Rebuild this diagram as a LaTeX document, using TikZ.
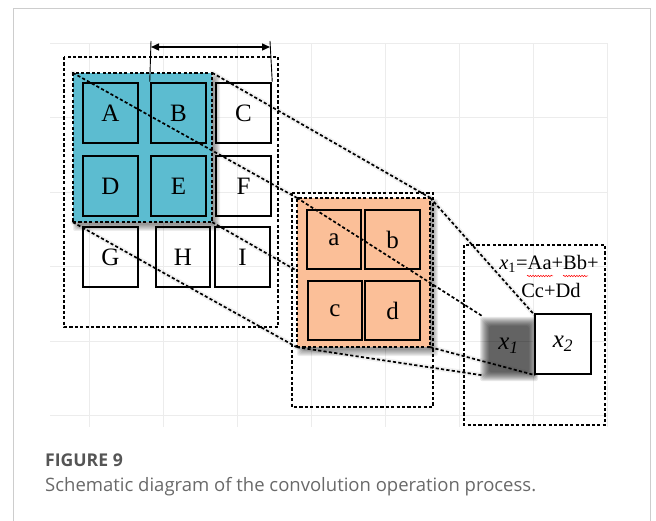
\documentclass[tikz,border=0pt]{standalone}
\usepackage{fontspec}
\setmainfont{Liberation Serif}
\newfontfamily\capfont{Open Sans}
\usetikzlibrary{arrows.meta,decorations.pathmorphing}

\definecolor{winblue}{RGB}{92,188,208}
\definecolor{kerorange}{RGB}{251,191,152}
\definecolor{gridgray}{RGB}{236,236,236}
\definecolor{framegray}{RGB}{205,205,205}
\definecolor{capdark}{RGB}{85,85,85}
\definecolor{captext}{RGB}{105,105,105}

% soft blurred box: x1 y1 x2 y2, inner offset list, opacity
\newcommand\softbox[6]{%
  \foreach \k in {#5}{%
    \fill[black, opacity=#6, rounded corners=2pt]
      (#1-\k,#2-\k) rectangle (#3+\k,#4+\k);
  }}

\tikzset{
  cellbox/.style={draw=black, line width=2.5pt, minimum width=55pt,
    minimum height=60pt, inner sep=0pt, font=\fontsize{25}{27}\selectfont},
  dotline/.style={line width=1.7pt, dash pattern=on 3.2pt off 2.2pt},
  framebox/.style={draw=black, dotline},
  regionbox/.style={draw=black, dotline, inner sep=0pt},
  lineshade/.style={line width=5pt, black, opacity=0.05, line cap=round,
    shift={(2,7)}},
}

\begin{document}
\begin{tikzpicture}[x=1pt, y=-1pt]
\useasboundingbox (0,0) rectangle (656,521);

% page frame and faint background grid
\draw[framegray, line width=0.8pt] (13,530) -- (13,8) -- (650,8) -- (650,530);
\foreach \gx in {89,163,237,311,385,459,533,607}
  \draw[gridgray, line width=0.8pt] (\gx,43) -- (\gx,427);
\foreach \gy in {43,117.5,192,266.5,341,415.5}
  \draw[gridgray, line width=0.8pt] (50,\gy) -- (607,\gy);

% node frames used by the projection lines
\node[minimum width=139pt, minimum height=149pt, inner sep=0pt]
  (win) at (142.5,147.5) {};
\node[minimum width=133pt, minimum height=149pt, inner sep=0pt]
  (ker) at (363.5,272.5) {};
\node[minimum width=53pt, minimum height=59pt, inner sep=0pt]
  (xone) at (508.5,345.5) {};

% soft shading under the projection lines
\draw[lineshade] (win.north west) -- (ker.north west);
\draw[lineshade] (win.north east) -- (ker.north east);
\draw[lineshade] (win.south west) -- (ker.south west);
\draw[lineshade] (win.south east) -- (ker.south east);
\draw[lineshade] (ker.north east) -- (xone.north east);
\draw[lineshade] (ker.south east) -- (xone.south east);
\draw[lineshade] (ker.south west) -- (xone.south west);

% dashed frames of input, kernel and output
\draw[framebox] (64,57) rectangle (278,327);
\draw[framebox] (292,193) rectangle (433,407);
\draw[framebox] (464,245) rectangle (605,425);

% sliding window on the input
\softbox{77}{78}{216}{227}{-2,...,4}{0.07}
\node[regionbox, fill=winblue, minimum width=139pt, minimum height=149pt]
  at (win) {};

\node[cellbox, fill=winblue] (A) at (110.5,113) {A};
\node[cellbox, fill=winblue] (B) at (178.5,113) {B};
\node[cellbox] (C) at (243.5,113) {C};
\node[cellbox, fill=winblue] (D) at (110.5,186) {D};
\node[cellbox, fill=winblue] (E) at (178.5,186) {E};
\node[cellbox] (F) at (243.5,186) {F};
\node[cellbox] (G) at (110.5,257) {G};
\node[cellbox, minimum width=54pt] (H) at (183,257) {H};
\node[cellbox] (I) at (242.5,257) {I};

% stride marker
\coordinate (stl) at (151,41);
\coordinate (str) at (270,41);
\coordinate (sal) at (151,47);
\coordinate (sar) at (270,47);
\draw[line width=0.9pt] (stl) -- (B.north west);
\draw[line width=0.9pt] (str) -- (C.north east);
\draw[line width=1.4pt, {Triangle[length=8pt,width=7pt]}-{Triangle[length=8pt,width=7pt]}]
  (sal) -- (sar);

% projection lines from the window to the kernel
\draw[dotline] (win.north west) -- (ker.north west);
\draw[dotline] (win.north east) -- (ker.north east);
\draw[dotline] (win.south west) -- (ker.south west);
\draw[dotline] (win.south east) -- (ker.south east);

% kernel
\softbox{301}{203}{434}{352}{-2,...,4}{0.07}
\node[regionbox, fill=kerorange, minimum width=133pt, minimum height=149pt]
  at (ker) {};
\node[cellbox, fill=kerorange, minimum width=54pt, minimum height=59pt] (ka) at (334,239.5) {a};
\node[cellbox, fill=kerorange, minimum width=55pt, minimum height=59pt] (kb) at (392.5,239.5) {b};
\node[cellbox, fill=kerorange, minimum width=54pt, minimum height=59pt] (kc) at (335,310.5) {c};
\node[cellbox, fill=kerorange, minimum width=55pt, minimum height=59pt] (kd) at (392.5,310.5) {d};

% projection lines from the kernel to the output, left side
\draw[dotline] (ker.north west) -- (xone.north west);
\draw[dotline] (ker.south west) -- (xone.south west);

% blurred output cell x1
\softbox{485}{322}{533}{376}{-4,...,5}{0.09}
\node[font=\fontsize{25}{27}\selectfont\itshape] (xonelbl) at (xone.center) {x\textsubscript{1}};

% projection lines from the kernel to the output, right side
\draw[dotline] (ker.north east) -- (xone.north east);
\draw[dotline] (ker.south east) -- (xone.south east);

% output cell x2
\node[cellbox, fill=white, minimum width=56pt, minimum height=60pt,
  font=\fontsize{25}{27}\selectfont\itshape] (xtwo) at (563,344) {x\textsubscript{2}};

% formula
\node[font=\fontsize{20.5}{22}\selectfont, inner sep=0pt] (f1) at (549,264)
  {{\itshape x}\textsubscript{1}=Aa+Bb+};
\node[font=\fontsize{20.5}{22}\selectfont, inner sep=0pt] (f2) at (551,290) {Cc+Dd};
\draw[red, line width=0.5pt, decorate,
  decoration={snake, amplitude=0.7pt, segment length=2.6pt}] (527,276) -- (553,276);
\draw[red, line width=0.5pt, decorate,
  decoration={snake, amplitude=0.7pt, segment length=2.6pt}] (563,276) -- (588,276);

% caption
\node[anchor=west, inner sep=0pt, font=\capfont\bfseries\fontsize{17.6}{20}\selectfont,
  text=capdark] (capnum) at (45,460) {FIGURE 9};
\node[anchor=west, inner sep=0pt, font=\capfont\fontsize{18.5}{21}\selectfont,
  text=captext] (captxt) at (45,487) {Schematic diagram of the convolution operation process.};
\end{tikzpicture}
\end{document}
